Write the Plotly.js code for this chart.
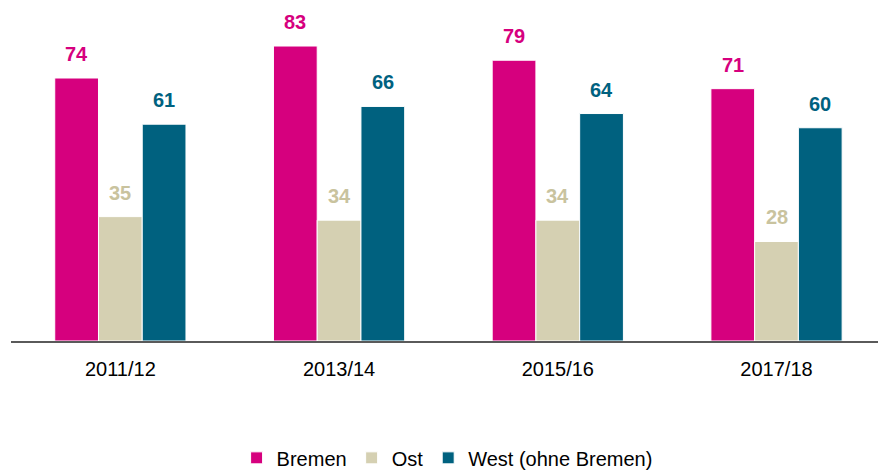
<!DOCTYPE html>
<html>
<head>
<meta charset="utf-8">
<script src="https://cdn.plot.ly/plotly-3.0.1.min.js"></script>
<style>html,body{margin:0;padding:0;background:#fff;overflow:hidden}#chart{width:878px;height:470px}</style>
</head>
<body>
<div id="chart"></div>
<script>
var categories = ['2011/12', '2013/14', '2015/16', '2017/18'];
var seriesNames = ['Bremen', 'Ost', 'West (ohne Bremen)'];
var bremen = [74, 83, 79, 71];
var ost = [35, 34, 34, 28];
var west = [61, 66, 64, 60];

var barColors = ['#d6007e', '#d5d0b2', '#00617f'];
var labelColors = ['#d6007e', '#c9c39e', '#00617f'];
var FONT = '"Liberation Sans", Arial, sans-serif';

var series = [bremen, ost, west];
var bargap = 0.4;
var bw = (1 - bargap) / series.length;

var traces = series.map(function (vals, j) {
  return {
    type: 'bar',
    name: seriesNames[j],
    x: categories,
    y: vals,
    marker: { color: barColors[j], line: { color: '#ffffff', width: 1 } },
    hoverinfo: 'none'
  };
});

var annotations = [];
series.forEach(function (vals, j) {
  vals.forEach(function (v, i) {
    annotations.push({
      xref: 'x', yref: 'y',
      x: i + (j - 1) * bw,
      y: v,
      text: '<b>' + v + '</b>',
      showarrow: false,
      yanchor: 'bottom',
      yshift: 11,
      font: { family: FONT, size: 20, color: labelColors[j] }
    });
  });
});

var layout = {
  width: 878,
  height: 470,
  margin: { l: 11, r: 0, t: 20, b: 129, autoexpand: false },
  paper_bgcolor: '#ffffff',
  plot_bgcolor: '#ffffff',
  barmode: 'group',
  bargap: bargap,
  bargroupgap: 0,
  font: { family: FONT, size: 20, color: '#000000' },
  xaxis: {
    type: 'category',
    range: [-0.5, 3.464],
    showline: true,
    linecolor: '#5a5a5a',
    linewidth: 2,
    ticks: '',
    ticklabelstandoff: 9,
    tickfont: { family: FONT, size: 20, color: '#000000' },
    showgrid: false,
    zeroline: false,
    fixedrange: true
  },
  yaxis: {
    range: [0, 90.32],
    visible: false,
    showgrid: false,
    zeroline: false,
    fixedrange: true
  },
  showlegend: true,
  legend: {
    orientation: 'h',
    x: 0.503,
    xanchor: 'center',
    y: -0.364,
    yanchor: 'middle',
    font: { family: FONT, size: 20, color: '#000000' },
    itemwidth: 30,
    traceorder: 'normal'
  },
  annotations: annotations
};

Plotly.newPlot('chart', traces, layout, { displayModeBar: false, staticPlot: true });
</script>
</body>
</html>
